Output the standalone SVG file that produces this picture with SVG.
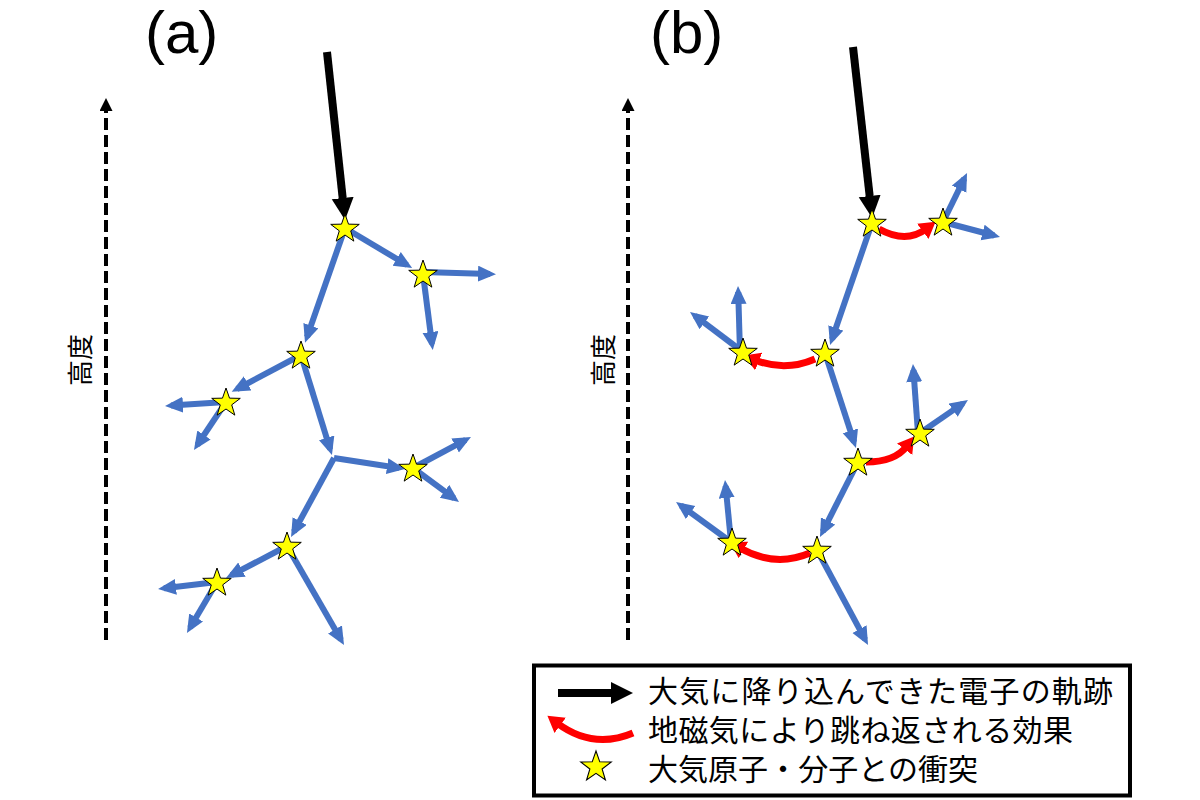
<svg xmlns="http://www.w3.org/2000/svg" xmlns:xlink="http://www.w3.org/1999/xlink" width="1200" height="800" viewBox="0 0 1200 800">
<style>
.blue{stroke:#4472C4;stroke-width:6;fill:none;marker-end:url(#hb)}
.red{stroke:#FF0000;stroke-width:7;fill:none;marker-end:url(#hr)}
.blk{stroke:#000;stroke-width:8;fill:none;marker-end:url(#hk)}
.dash{stroke:#000;stroke-width:4;stroke-dasharray:12 5;fill:none;marker-end:url(#hd)}
.star{fill:#FFFF00;stroke:#000;stroke-width:1}
.lbl{font-family:"Liberation Sans",Arial,sans-serif;font-size:60px;fill:#000}
.jp{font-family:"Noto Sans CJK JP","Noto Sans CJK SC",sans-serif;fill:#000}
</style>
<defs>
<marker id="hb" markerUnits="userSpaceOnUse" markerWidth="20" markerHeight="18" refX="12" refY="8" orient="auto"><path d="M0,0 L18,8 L0,16 z" fill="#4472C4"/></marker>
<marker id="hr" markerUnits="userSpaceOnUse" markerWidth="18" markerHeight="20" refX="4" refY="9.5" orient="auto"><path d="M0,0 L16,9.5 L0,19 z" fill="#FF0000"/></marker>
<marker id="hk" markerUnits="userSpaceOnUse" markerWidth="24" markerHeight="24" refX="3" refY="11" orient="auto"><path d="M0,0 L22,11 L0,22 z" fill="#000"/></marker>
<marker id="hd" markerUnits="userSpaceOnUse" markerWidth="15" markerHeight="15" refX="2" refY="6.5" orient="auto"><path d="M0,0 L13,6.5 L0,13 z" fill="#000"/></marker>
<path id="star" class="star" d="M0,-15 L3.53,-4.85 L14.27,-4.64 L5.71,1.85 L8.82,12.14 L0,6 L-8.82,12.14 L-5.71,1.85 L-14.27,-4.64 L-3.53,-4.85 Z"/>
</defs>
<rect width="1200" height="800" fill="#fff"/>

<g id="labels">
<text class="lbl" x="145" y="53">(a)</text>
<text class="lbl" x="650" y="53">(b)</text>
<text class="jp" font-size="26" text-anchor="middle" dominant-baseline="central" transform="translate(78,360) rotate(-90)">高度</text>
<text class="jp" font-size="26" text-anchor="middle" dominant-baseline="central" transform="translate(601,360) rotate(-90)">高度</text>
</g>

<g id="connectors">
<line class="dash" x1="106" y1="640" x2="106" y2="109"/>
<line class="dash" x1="628" y1="640" x2="628" y2="109"/>
<line class="blk" x1="327" y1="52" x2="343" y2="201"/>
<line class="blue" x1="345" y1="228" x2="307" y2="337"/>
<line class="blue" x1="345" y1="228" x2="407" y2="265"/>
<line class="blue" x1="423" y1="272" x2="490" y2="274"/>
<line class="blue" x1="423" y1="274" x2="432" y2="344"/>
<line class="blue" x1="301" y1="355" x2="237" y2="389"/>
<line class="blue" x1="226" y1="402" x2="171" y2="405.6"/>
<line class="blue" x1="226" y1="402" x2="197.3" y2="445"/>
<line class="blue" x1="301" y1="355" x2="330.2" y2="449.3"/>
<line class="blue" x1="334" y1="458" x2="399" y2="468"/>
<line class="blue" x1="334" y1="458" x2="293.9" y2="531.7"/>
<line class="blue" x1="413" y1="468" x2="465.7" y2="439.8"/>
<line class="blue" x1="413" y1="468" x2="454.2" y2="498.4"/>
<line class="blue" x1="287" y1="546" x2="231.3" y2="575.2"/>
<line class="blue" x1="217" y1="582" x2="164" y2="588.3"/>
<line class="blue" x1="217" y1="582" x2="190" y2="627.8"/>
<line class="blue" x1="287" y1="546" x2="341" y2="639.8"/>
<line class="blk" x1="853" y1="47" x2="870" y2="199"/>
<path class="red" d="M879,229 Q906,244 926,229"/>
<line class="blue" x1="943" y1="222" x2="964.4" y2="178.4"/>
<line class="blue" x1="943" y1="222" x2="994.2" y2="235.5"/>
<line class="blue" x1="872" y1="223" x2="832" y2="339.3"/>
<path class="red" d="M815,359 Q785,372 755,360"/>
<line class="blue" x1="740" y1="352" x2="738.2" y2="292"/>
<line class="blue" x1="743" y1="352" x2="694.8" y2="315.6"/>
<line class="blue" x1="825" y1="353" x2="854.1" y2="442.3"/>
<path class="red" d="M866,462 Q895,462 907,446"/>
<line class="blue" x1="918" y1="433" x2="913.4" y2="370"/>
<line class="blue" x1="920" y1="433" x2="963" y2="403.4"/>
<line class="blue" x1="858" y1="462" x2="822.7" y2="531.6"/>
<path class="red" d="M810,553 Q775,568 740,548"/>
<line class="blue" x1="731" y1="542" x2="725.6" y2="486"/>
<line class="blue" x1="731" y1="542" x2="680.9" y2="505.5"/>
<line class="blue" x1="817" y1="550" x2="865.2" y2="639.7"/>
</g>

<g id="star-a1"><use xlink:href="#star" x="345" y="229"/></g>
<g id="star-a2"><use xlink:href="#star" x="301" y="356"/></g>
<g id="star-a3"><use xlink:href="#star" x="423" y="275"/></g>
<g id="star-a4"><use xlink:href="#star" x="226" y="403"/></g>
<g id="star-a5"><use xlink:href="#star" x="413" y="469"/></g>
<g id="star-a6"><use xlink:href="#star" x="287" y="547"/></g>
<g id="star-a7"><use xlink:href="#star" x="217" y="583"/></g>
<g id="star-b1"><use xlink:href="#star" x="872" y="224"/></g>
<g id="star-b2"><use xlink:href="#star" x="943" y="223"/></g>
<g id="star-b3"><use xlink:href="#star" x="825" y="354"/></g>
<g id="star-b4"><use xlink:href="#star" x="743" y="353"/></g>
<g id="star-b5"><use xlink:href="#star" x="858" y="463"/></g>
<g id="star-b6"><use xlink:href="#star" x="920" y="434"/></g>
<g id="star-b7"><use xlink:href="#star" x="817" y="551"/></g>
<g id="star-b8"><use xlink:href="#star" x="732" y="543"/></g>

<g id="legend">
<rect x="534" y="665.5" width="596" height="130" fill="#fff" stroke="#000" stroke-width="4"/>
<line class="blk" x1="558" y1="693" x2="614" y2="693"/>
<path class="red" d="M633,733 Q593,750 557,723"/>
<use xlink:href="#star" transform="translate(596,767) scale(1.07)"/>
<text class="jp" font-size="30" x="648" y="702" textLength="465">大気に降り込んできた電子の軌跡</text>
<text class="jp" font-size="30" x="648" y="741" textLength="425">地磁気により跳ね返される効果</text>
<text class="jp" font-size="30" x="648" y="780" textLength="330">大気原子・分子との衝突</text>
</g>
</svg>
